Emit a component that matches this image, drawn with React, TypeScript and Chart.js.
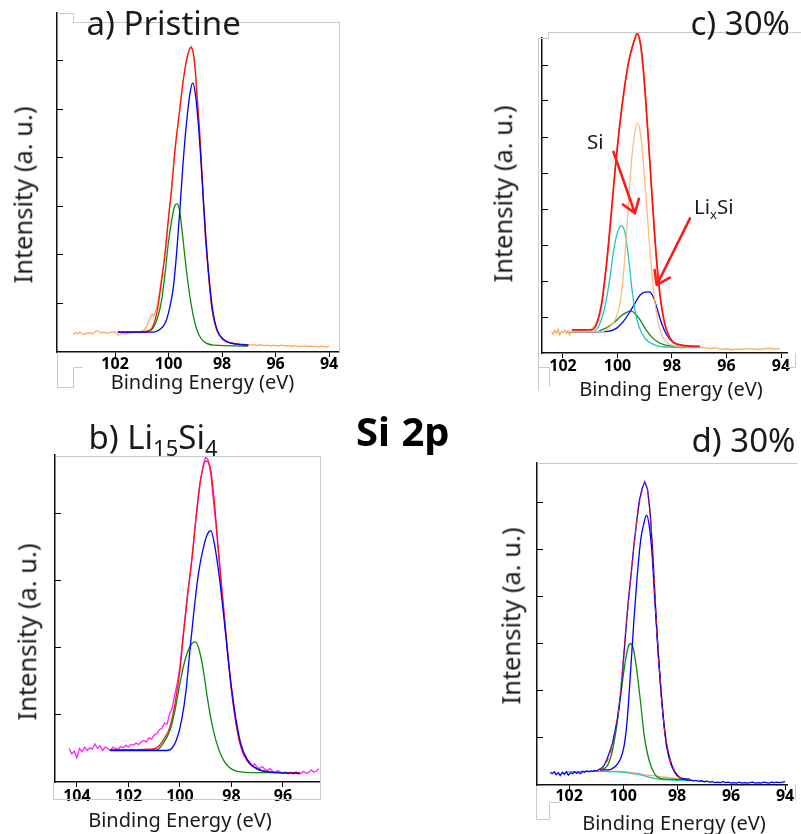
import React, { useEffect, useRef } from 'react';
import { Chart, registerables } from 'chart.js';

Chart.register(...registerables);

type Pt = [number, number];

const FONT = '"Noto Sans", "DejaVu Sans", sans-serif';
const W = 801;
const H = 834;

// ---------------- a) Pristine ----------------
const aXTicks = [102, 100, 98, 96, 94];
const aYTicks = [1, 2, 3, 4, 5, 6];
const aRaw: Pt[] = [
  [103.57, 0.36], [103.48, 0.4], [103.4, 0.37], [103.32, 0.41], [103.24, 0.38], [103.16, 0.36], [103.08, 0.39],
  [103.0, 0.38], [102.92, 0.4], [102.84, 0.37], [102.76, 0.41], [102.68, 0.44], [102.6, 0.42], [102.52, 0.39],
  [102.44, 0.41], [102.36, 0.4], [102.28, 0.38], [102.2, 0.41], [102.12, 0.4], [102.04, 0.42], [101.96, 0.38],
  [101.88, 0.35], [101.8, 0.36], [101.72, 0.39], [101.64, 0.37], [101.56, 0.38], [101.48, 0.4], [101.4, 0.39],
  [101.32, 0.41], [101.24, 0.4], [101.16, 0.42], [101.08, 0.41], [101.0, 0.43], [100.9, 0.46], [100.8, 0.55],
  [100.7, 0.68], [100.62, 0.78], [100.55, 0.74], [100.48, 0.86], [100.4, 1.02], [100.3, 1.38], [100.2, 1.75],
  [100.1, 2.2], [100.0, 2.78], [99.9, 3.3], [99.8, 3.92], [99.7, 4.45], [99.6, 4.92], [99.5, 5.38], [99.4, 5.78],
  [99.3, 6.1], [99.2, 6.26], [99.15, 6.3], [99.1, 6.2], [99.0, 5.82], [98.9, 5.0], [98.8, 4.15], [98.7, 3.2],
  [98.6, 2.3], [98.5, 1.55], [98.4, 1.0], [98.3, 0.66], [98.2, 0.46], [98.1, 0.34], [98.0, 0.27], [97.9, 0.23],
  [97.8, 0.2], [97.7, 0.19], [97.6, 0.18], [97.5, 0.17], [97.4, 0.18], [97.3, 0.16], [97.2, 0.16], [97.1, 0.15],
  [97.0, 0.15], [96.9, 0.14], [96.8, 0.15], [96.7, 0.13], [96.6, 0.15], [96.5, 0.14], [96.4, 0.13], [96.3, 0.14],
  [96.2, 0.12], [96.1, 0.14], [96.0, 0.13], [95.9, 0.12], [95.8, 0.14], [95.7, 0.13], [95.6, 0.12], [95.5, 0.13],
  [95.4, 0.11], [95.3, 0.13], [95.2, 0.12], [95.1, 0.11], [95.0, 0.12], [94.9, 0.13], [94.8, 0.11], [94.7, 0.12],
  [94.6, 0.11], [94.5, 0.12], [94.4, 0.1], [94.3, 0.12], [94.2, 0.11], [94.1, 0.1], [94.0, 0.12],
];
const aEnvelope: Pt[] = [
  [101.9, 0.41], [100.94, 0.42], [100.69, 0.45], [100.44, 0.8], [100.26, 1.48], [100.13, 2.03], [100.01, 2.72],
  [99.88, 3.4], [99.76, 4.16], [99.6, 4.91], [99.45, 5.6], [99.3, 6.08], [99.17, 6.27], [99.05, 6.08],
  [98.95, 5.39], [98.82, 4.36], [98.72, 3.33], [98.64, 2.51], [98.51, 1.62], [98.39, 0.93], [98.2, 0.45],
  [97.95, 0.25], [97.58, 0.18], [97.02, 0.14],
];
const aSiMain: Pt[] = [
  [101.9, 0.41], [101.0, 0.41], [100.57, 0.41], [100.32, 0.47], [100.13, 0.59], [99.95, 0.93], [99.82, 1.34],
  [99.7, 2.03], [99.57, 2.99], [99.45, 3.95], [99.32, 4.77], [99.2, 5.32], [99.1, 5.54], [99.0, 5.32],
  [98.89, 4.71], [98.8, 4.02], [98.7, 3.13], [98.6, 2.3], [98.48, 1.48], [98.35, 0.86], [98.18, 0.45],
  [97.93, 0.25], [97.45, 0.16], [97.02, 0.14],
];
const aSiSecond: Pt[] = [
  [101.9, 0.41], [101.07, 0.41], [100.69, 0.44], [100.44, 0.66], [100.26, 1.07], [100.13, 1.62], [100.01, 2.24],
  [99.88, 2.72], [99.78, 2.99], [99.67, 3.05], [99.57, 2.85], [99.47, 2.37], [99.35, 1.76], [99.22, 1.21],
  [99.07, 0.73], [98.89, 0.38], [98.67, 0.21], [98.33, 0.14], [97.02, 0.12],
];

// ---------------- b) Li15Si4 ----------------
const bXTicks = [104, 102, 100, 98, 96];
const bYTicks = [1, 2, 3, 4];
const bRaw: Pt[] = [
  [104.3, 0.5], [104.2, 0.42], [104.1, 0.46], [104.0, 0.36], [103.9, 0.5], [103.8, 0.45], [103.7, 0.52],
  [103.6, 0.47], [103.5, 0.51], [103.4, 0.49], [103.3, 0.57], [103.2, 0.5], [103.1, 0.54], [103.0, 0.47],
  [102.9, 0.52], [102.8, 0.5], [102.7, 0.47], [102.6, 0.52], [102.5, 0.5], [102.4, 0.49], [102.3, 0.53],
  [102.2, 0.51], [102.1, 0.55], [102.0, 0.52], [101.9, 0.56], [101.8, 0.55], [101.7, 0.58], [101.6, 0.56],
  [101.5, 0.6], [101.4, 0.62], [101.3, 0.6], [101.2, 0.66], [101.1, 0.64], [101.0, 0.7], [100.9, 0.72],
  [100.8, 0.78], [100.7, 0.8], [100.6, 0.88], [100.5, 0.86], [100.4, 1.02], [100.3, 1.1], [100.2, 1.3],
  [100.1, 1.48], [100.0, 1.72], [99.9, 2.1], [99.8, 2.45], [99.7, 2.8], [99.6, 3.1], [99.5, 3.45], [99.4, 3.85],
  [99.3, 4.2], [99.2, 4.5], [99.1, 4.72], [99.0, 4.85], [98.9, 4.8], [98.8, 4.6], [98.7, 4.2], [98.6, 3.85],
  [98.5, 3.45], [98.4, 3.0], [98.3, 2.6], [98.2, 2.15], [98.1, 1.75], [98.0, 1.38], [97.9, 1.08], [97.8, 0.82],
  [97.7, 0.62], [97.6, 0.48], [97.5, 0.38], [97.4, 0.34], [97.3, 0.3], [97.2, 0.24], [97.1, 0.27], [97.0, 0.22],
  [96.9, 0.2], [96.8, 0.23], [96.7, 0.19], [96.6, 0.17], [96.5, 0.2], [96.4, 0.16], [96.3, 0.14], [96.2, 0.17],
  [96.1, 0.14], [96.0, 0.13], [95.9, 0.15], [95.8, 0.12], [95.7, 0.14], [95.6, 0.12], [95.5, 0.15], [95.4, 0.12],
  [95.3, 0.13], [95.2, 0.16], [95.1, 0.13], [95.0, 0.14], [94.9, 0.18], [94.8, 0.15], [94.7, 0.16], [94.6, 0.2],
];
const bEnvelope: Pt[] = [
  [102.71, 0.48], [101.16, 0.49], [100.9, 0.51], [100.64, 0.63], [100.38, 0.83], [100.19, 1.17], [100.0, 1.67],
  [99.87, 2.17], [99.71, 2.77], [99.54, 3.31], [99.37, 3.96], [99.22, 4.46], [98.99, 4.79], [98.83, 4.71],
  [98.67, 4.21], [98.51, 3.46], [98.34, 2.72], [98.18, 2.07], [98.03, 1.47], [97.86, 0.97], [97.67, 0.58],
  [97.41, 0.33], [97.02, 0.2], [96.5, 0.15], [95.34, 0.14],
];
const bLiSi: Pt[] = [
  [102.71, 0.47], [100.51, 0.47], [100.32, 0.5], [100.13, 0.63], [99.93, 0.93], [99.76, 1.37], [99.61, 1.97],
  [99.45, 2.57], [99.28, 3.11], [99.11, 3.46], [98.94, 3.69], [98.8, 3.75], [98.64, 3.51], [98.47, 3.06],
  [98.31, 2.52], [98.16, 1.97], [98.0, 1.42], [97.82, 0.93], [97.64, 0.58], [97.38, 0.33], [97.02, 0.2],
  [96.24, 0.14], [95.34, 0.13],
];
const bSecond: Pt[] = [
  [102.71, 0.48], [100.9, 0.48], [100.64, 0.58], [100.38, 0.78], [100.19, 1.07], [100.0, 1.47], [99.8, 1.82],
  [99.61, 2.02], [99.41, 2.09], [99.25, 1.97], [99.09, 1.67], [98.94, 1.27], [98.76, 0.88], [98.57, 0.58],
  [98.31, 0.33], [97.93, 0.18], [97.28, 0.14], [95.9, 0.14],
];

// ---------------- c) 30% ----------------
const cXTicks = [102, 100, 98, 96, 94];
const cYTicks = [1, 2, 3, 4, 5, 6, 7, 8];
const cRaw: Pt[] = [
  [102.42, 0.58], [102.36, 0.52], [102.3, 0.63], [102.24, 0.55], [102.18, 0.66], [102.12, 0.5], [102.06, 0.6],
  [102.0, 0.57], [101.94, 0.64], [101.88, 0.55], [101.82, 0.62], [101.76, 0.5], [101.7, 0.6], [101.64, 0.63],
  [101.5, 0.62], [101.3, 0.63], [101.1, 0.64], [100.95, 0.66], [100.8, 0.8], [100.7, 1.0], [100.6, 1.32],
  [100.5, 1.85], [100.4, 2.5], [100.3, 3.2], [100.2, 4.05], [100.1, 4.95], [100.0, 5.75], [99.9, 6.4],
  [99.8, 7.05], [99.7, 7.6], [99.6, 8.05], [99.5, 8.4], [99.4, 8.65], [99.3, 8.82], [99.25, 8.84], [99.15, 8.55],
  [99.05, 7.85], [98.95, 6.85], [98.85, 5.75], [98.75, 4.6], [98.65, 3.45], [98.55, 2.45], [98.45, 1.65],
  [98.35, 1.12], [98.25, 0.75], [98.15, 0.52], [98.05, 0.38], [97.9, 0.28], [97.75, 0.22], [97.6, 0.2],
  [97.4, 0.18], [97.2, 0.17], [97.0, 0.16], [96.8, 0.14], [96.6, 0.12], [96.4, 0.14], [96.2, 0.1], [96.0, 0.12],
  [95.8, 0.09], [95.6, 0.11], [95.4, 0.1], [95.2, 0.12], [95.0, 0.11], [94.8, 0.1], [94.6, 0.12], [94.4, 0.13],
  [94.2, 0.11], [94.05, 0.13],
];
const cEnvelope: Pt[] = [
  [101.67, 0.64], [100.95, 0.64], [100.76, 0.82], [100.58, 1.38], [100.4, 2.49], [100.24, 3.79], [100.09, 5.08],
  [99.94, 6.19], [99.79, 7.12], [99.6, 8.05], [99.42, 8.6], [99.27, 8.88], [99.14, 8.51], [99.02, 7.58],
  [98.89, 6.19], [98.77, 4.81], [98.65, 3.42], [98.5, 2.03], [98.32, 1.01], [98.07, 0.41], [97.64, 0.22],
  [96.97, 0.18],
];
const cSiMain: Pt[] = [
  [101.9, 0.59], [100.58, 0.59], [100.34, 0.69], [100.09, 0.92], [99.91, 1.38], [99.79, 2.12], [99.66, 3.42],
  [99.54, 4.81], [99.42, 5.82], [99.26, 6.4], [99.14, 6.01], [99.02, 4.99], [98.89, 3.69], [98.77, 2.49],
  [98.65, 1.56], [98.5, 0.82], [98.32, 0.41], [98.01, 0.22], [97.5, 0.18], [96.97, 0.17],
];
const cSi: Pt[] = [
  [101.9, 0.59], [100.95, 0.59], [100.7, 0.73], [100.46, 1.29], [100.27, 2.12], [100.12, 2.95], [99.97, 3.42],
  [99.85, 3.54], [99.72, 3.32], [99.6, 2.68], [99.48, 1.84], [99.36, 1.19], [99.21, 0.73], [98.99, 0.41],
  [98.62, 0.22], [98.01, 0.16], [96.97, 0.15],
];
const cLixSi: Pt[] = [
  [101.9, 0.59], [100.58, 0.59], [100.34, 0.6], [100.03, 0.69], [99.79, 0.87], [99.54, 1.15], [99.36, 1.38],
  [99.17, 1.61], [98.99, 1.69], [98.84, 1.7], [98.69, 1.56], [98.53, 1.19], [98.38, 0.82], [98.19, 0.5],
  [97.95, 0.29], [97.58, 0.19], [96.97, 0.18],
];
const cOxide: Pt[] = [
  [101.9, 0.59], [100.76, 0.59], [100.58, 0.64], [100.34, 0.73], [100.09, 0.87], [99.85, 1.04], [99.66, 1.13],
  [99.51, 1.17], [99.36, 1.1], [99.17, 0.92], [98.99, 0.69], [98.74, 0.44], [98.44, 0.27], [98.01, 0.19],
  [96.97, 0.17],
];

// ---------------- d) 30% ----------------
const dXTicks = [102, 100, 98, 96, 94];
const dYTicks = [1, 2, 3, 4, 5, 6];
const dRaw: Pt[] = [
  [102.7, 0.27], [102.63, 0.24], [102.55, 0.28], [102.48, 0.22], [102.4, 0.26], [102.33, 0.2], [102.25, 0.27],
  [102.18, 0.23], [102.1, 0.28], [102.03, 0.21], [101.95, 0.26], [101.87, 0.24], [101.8, 0.28], [101.72, 0.25],
  [101.65, 0.27], [101.57, 0.24], [101.5, 0.29], [101.42, 0.27], [101.35, 0.3], [101.27, 0.28], [101.2, 0.3],
  [101.12, 0.29], [101.05, 0.31], [100.97, 0.3], [100.9, 0.33], [100.8, 0.36], [100.7, 0.42], [100.6, 0.55],
  [100.5, 0.7], [100.4, 0.88], [100.3, 1.15], [100.2, 1.45], [100.1, 1.9], [100.0, 2.55], [99.9, 3.3],
  [99.8, 3.95], [99.7, 4.5], [99.6, 5.1], [99.5, 5.6], [99.4, 6.05], [99.3, 6.3], [99.2, 6.45], [99.1, 6.3],
  [99.0, 5.8], [98.9, 4.9], [98.8, 3.8], [98.7, 2.8], [98.6, 2.0], [98.5, 1.35], [98.4, 0.85], [98.3, 0.58],
  [98.2, 0.4], [98.1, 0.28], [98.0, 0.2], [97.9, 0.16], [97.8, 0.13], [97.7, 0.12], [97.6, 0.1], [97.5, 0.11],
  [97.4, 0.09], [97.3, 0.1], [97.2, 0.08], [97.1, 0.09], [97.0, 0.07], [96.9, 0.08], [96.8, 0.06], [96.7, 0.07],
  [96.6, 0.05], [96.5, 0.06], [96.4, 0.05], [96.3, 0.07], [96.2, 0.05], [96.1, 0.06], [96.0, 0.04], [95.9, 0.05],
  [95.8, 0.04], [95.7, 0.06], [95.6, 0.04], [95.5, 0.05], [95.4, 0.04], [95.3, 0.05], [95.2, 0.06], [95.1, 0.04],
  [95.0, 0.05], [94.9, 0.04], [94.8, 0.06], [94.7, 0.05], [94.6, 0.04], [94.5, 0.06], [94.4, 0.05], [94.3, 0.06],
  [94.2, 0.05], [94.1, 0.06], [94.0, 0.07],
];
const dEnvelope: Pt[] = [
  [100.86, 0.32], [100.67, 0.43], [100.49, 0.67], [100.3, 1.1], [100.14, 1.74], [99.99, 2.66], [99.87, 3.51],
  [99.75, 4.22], [99.6, 5.07], [99.44, 5.85], [99.31, 6.24], [99.2, 6.43], [99.1, 6.28], [99.0, 5.78],
  [98.9, 4.93], [98.81, 3.87], [98.7, 2.8], [98.57, 1.81], [98.45, 1.1], [98.29, 0.6], [98.08, 0.28],
  [97.83, 0.14], [97.52, 0.12],
];
const dSiMain: Pt[] = [
  [100.86, 0.32], [100.61, 0.32], [100.3, 0.39], [100.12, 0.53], [99.97, 0.81], [99.85, 1.38], [99.72, 2.45],
  [99.6, 3.51], [99.48, 4.43], [99.35, 5.21], [99.23, 5.57], [99.13, 5.74], [99.03, 5.5], [98.93, 4.93],
  [98.82, 3.87], [98.7, 2.8], [98.57, 1.81], [98.45, 1.1], [98.29, 0.6], [98.08, 0.28], [97.83, 0.14],
  [97.52, 0.12],
];
const dSecond: Pt[] = [
  [100.86, 0.32], [100.61, 0.39], [100.42, 0.67], [100.24, 1.24], [100.08, 1.95], [99.93, 2.59], [99.81, 2.94],
  [99.72, 3.01], [99.6, 2.84], [99.48, 2.38], [99.35, 1.74], [99.23, 1.1], [99.1, 0.67], [98.94, 0.36],
  [98.76, 0.18], [98.5, 0.13], [97.52, 0.12],
];
const dBackground1: Pt[] = [
  [102.1, 0.28], [101.4, 0.29], [100.8, 0.29], [100.2, 0.28], [99.85, 0.26], [99.49, 0.23], [99.25, 0.2],
  [99.0, 0.16], [98.75, 0.13], [98.4, 0.11], [98.0, 0.1], [97.4, 0.1],
];
const dBackground2: Pt[] = [
  [100.86, 0.3], [100.2, 0.29], [99.85, 0.28], [99.5, 0.25], [99.1, 0.21], [98.75, 0.19], [98.5, 0.17],
  [98.2, 0.15], [97.9, 0.13], [97.5, 0.12],
];

// ---------------- styling ----------------
const RED = '#ff1010';
const BLUE = '#0000ff';
const GREEN = '#0c8a0c';
const ORANGE = '#ffaa58';
const PEACH = '#ffbb80';
const MAGENTA = '#ff22ff';
const CYAN = '#22c4c4';

interface Series { data: Pt[]; color: string; smooth?: boolean; width?: number; dash?: number[] }
interface Arrow { from: Pt; to: Pt }
interface Panel {
  area: [number, number, number, number];
  xRange: [number, number];
  yMax: number;
  xTicks: number[];
  yTicks: number[];
  labelPad: number;
  series: Series[];
  frame: Pt[][];
  arrows?: Arrow[];
}

const panels: Panel[] = [
  {
    area: [57, 13, 339, 352], xRange: [93.63, 104.17], yMax: 6.98, xTicks: aXTicks, yTicks: aYTicks, labelPad: -1.8,
    series: [
      { data: aSiMain, color: BLUE, smooth: true },
      { data: aEnvelope, color: RED, smooth: true },
      { data: aSiSecond, color: GREEN, smooth: true },
      { data: aRaw, color: ORANGE },
    ],
    frame: [
      [[57, 13], [73, 13], [73, 22], [339, 22], [339, 352]],
      [[57, 352], [57, 387], [73, 387], [73, 367], [82, 367]],
    ],
  },
  {
    area: [55, 455, 320, 782], xRange: [94.56, 104.85], yMax: 4.88, xTicks: bXTicks, yTicks: bYTicks, labelPad: 0.3,
    series: [
      { data: bLiSi, color: BLUE, smooth: true },
      { data: bSecond, color: GREEN, smooth: true },
      { data: bEnvelope, color: RED, smooth: true },
      { data: bRaw, color: MAGENTA },
    ],
    frame: [
      [[55, 456], [320, 456], [320, 799], [53, 799], [53, 782]],
    ],
  },
  {
    area: [542, 38, 787, 353], xRange: [93.78, 102.77], yMax: 8.75, xTicks: cXTicks, yTicks: cYTicks, labelPad: -0.8,
    series: [
      { data: cEnvelope, color: RED, smooth: true, width: 1.7 },
      { data: cRaw, color: ORANGE },
      { data: cSiMain, color: PEACH, smooth: true },
      { data: cSi, color: CYAN, smooth: true },
      { data: cLixSi, color: BLUE, smooth: true },
      { data: cOxide, color: GREEN, smooth: true },
    ],
    frame: [
      [[538, 38], [548, 38], [548, 32], [801, 32]],
      [[538, 38], [538, 390]],
      [[538, 367], [549, 367], [549, 386]],
      [[795, 353], [795, 367], [785, 367]],
    ],
    arrows: [
      { from: [100.15, 5.59], to: [99.36, 3.88] },
      { from: [97.34, 3.74], to: [98.56, 1.89] },
    ],
  },
  {
    area: [537, 463, 787, 785], xRange: [93.93, 103.19], yMax: 6.85, xTicks: dXTicks, yTicks: dYTicks, labelPad: -2.8,
    series: [
      { data: dEnvelope, color: RED, smooth: true, dash: [5, 5] },
      { data: dRaw, color: BLUE },
      { data: dSiMain, color: BLUE, smooth: true },
      { data: dSecond, color: GREEN, smooth: true },
      { data: dBackground1, color: CYAN, smooth: true },
      { data: dBackground2, color: ORANGE, smooth: true },
    ],
    frame: [
      [[537, 463], [797, 463]],
      [[536, 786], [536, 819], [549, 819], [549, 802], [560, 802]],
      [[795, 783], [795, 800]],
    ],
  },
];

function PanelChart({ p }: { p: Panel }) {
  const ref = useRef<HTMLCanvasElement | null>(null);
  useEffect(() => {
    const [L, T, R, B] = p.area;
    const XH = 40;
    const decor = {
      id: 'decor',
      afterDraw(chart: any) {
        const ctx = chart.ctx as CanvasRenderingContext2D;
        ctx.save();
        ctx.strokeStyle = '#c9c9c9';
        ctx.lineWidth = 1;
        for (const pl of p.frame) {
          ctx.beginPath();
          pl.forEach(([x, y], i) => (i ? ctx.lineTo(x + 0.5, y + 0.5) : ctx.moveTo(x + 0.5, y + 0.5)));
          ctx.stroke();
        }
        const xs = chart.scales.x;
        const ys = chart.scales.y;
        ctx.strokeStyle = '#ff1a1a';
        ctx.lineWidth = 2.6;
        ctx.lineCap = 'round';
        ctx.lineJoin = 'round';
        for (const a of p.arrows || []) {
          const x1 = xs.getPixelForValue(a.from[0]);
          const y1 = ys.getPixelForValue(a.from[1]);
          const x2 = xs.getPixelForValue(a.to[0]);
          const y2 = ys.getPixelForValue(a.to[1]);
          const ang = Math.atan2(y2 - y1, x2 - x1);
          const len = 15;
          const sp = 0.6;
          ctx.beginPath();
          ctx.moveTo(x1, y1);
          ctx.lineTo(x2, y2);
          ctx.moveTo(x2 - len * Math.cos(ang - sp), y2 - len * Math.sin(ang - sp));
          ctx.lineTo(x2, y2);
          ctx.lineTo(x2 - len * Math.cos(ang + sp), y2 - len * Math.sin(ang + sp));
          ctx.stroke();
        }
        ctx.restore();
      },
    };
    const chart = new Chart(ref.current as HTMLCanvasElement, {
      type: 'line',
      data: {
        datasets: p.series.map((s, i) => ({
          data: s.data.map(([x, y]) => ({ x, y })),
          borderColor: s.color,
          backgroundColor: s.color,
          borderWidth: s.width ?? 1.3,
          borderDash: s.dash ?? [],
          pointRadius: 0,
          cubicInterpolationMode: s.smooth ? 'monotone' : 'default',
          tension: 0,
          fill: false,
          clip: false,
          order: i,
        })) as any,
      },
      options: {
        animation: false,
        responsive: false,
        events: [],
        layout: { autoPadding: false, padding: { left: L, top: T, right: W - R, bottom: H - B - XH } },
        plugins: { legend: { display: false }, tooltip: { enabled: false } },
        scales: {
          x: {
            type: 'linear',
            reverse: true,
            min: p.xRange[0],
            max: p.xRange[1],
            afterBuildTicks: (s: any) => { s.ticks = p.xTicks.map((v) => ({ value: v })); },
            afterFit: (s: any) => { s.height = XH; },
            ticks: {
              autoSkip: false,
              maxRotation: 0,
              padding: p.labelPad,
              color: '#000',
              font: { family: FONT, size: 16, weight: 'bold' },
              callback: (v: any) => String(v),
            },
            grid: { display: true, drawOnChartArea: false, drawTicks: true, tickLength: 5, color: '#000', lineWidth: 1 },
            border: { display: true, color: '#111', width: 1.5 },
          },
          y: {
            type: 'linear',
            min: 0,
            max: p.yMax,
            afterBuildTicks: (s: any) => { s.ticks = p.yTicks.map((v) => ({ value: v })); },
            afterFit: (s: any) => { s.width = 0; },
            ticks: { display: false },
            grid: { display: true, drawOnChartArea: false, drawTicks: true, tickLength: -6, color: '#000', lineWidth: 1 },
            border: { display: true, color: '#111', width: 1.5 },
          },
        },
      } as any,
      plugins: [decor as any],
    });
    return () => chart.destroy();
  }, [p]);
  return (
    <canvas
      ref={ref}
      width={W}
      height={H}
      style={{ position: 'absolute', left: 0, top: 0, width: W, height: H }}
    />
  );
}

const txt: React.CSSProperties = {
  position: 'absolute',
  whiteSpace: 'nowrap',
  lineHeight: 1,
  fontFamily: FONT,
  color: '#1a1a1a',
};

function XTitle({ cx, top }: { cx: number; top: number }) {
  return <div style={{ ...txt, left: cx, top, fontSize: 20, transform: 'translateX(-50%)' }}>Binding Energy (eV)</div>;
}
function YTitle({ cx, cy }: { cx: number; cy: number }) {
  return (
    <div style={{ ...txt, left: cx, top: cy, fontSize: 25.5, transform: 'translate(-50%, -50%) rotate(-90deg)' }}>
      Intensity (a. u.)
    </div>
  );
}

export default function App() {
  const sub = (s: string, size: number, drop: number) => (
    <span style={{ fontSize: size, position: 'relative', top: drop }}>{s}</span>
  );
  return (
    <div style={{ position: 'absolute', left: 0, top: 0, width: W, height: H, background: '#fff', overflow: 'hidden' }}>
      {panels.map((p, i) => (
        <PanelChart key={i} p={p} />
      ))}
      <div style={{ ...txt, left: 86.5, top: 5.7, fontSize: 33 }}>a) Pristine</div>
      <div style={{ ...txt, left: 88.5, top: 419.7, fontSize: 33 }}>
        b) Li{sub('15', 22, 7)}Si{sub('4', 22, 7)}
      </div>
      <div style={{ ...txt, left: 690.5, top: 5.7, fontSize: 33 }}>c) 30%</div>
      <div style={{ ...txt, left: 691.5, top: 422.7, fontSize: 33 }}>d) 30%</div>
      <div style={{ ...txt, left: 356, top: 411, fontSize: 40, fontWeight: 'bold', wordSpacing: 1, color: '#000' }}>
        Si 2p
      </div>
      <XTitle cx={202.5} top={372.2} />
      <XTitle cx={180} top={810.2} />
      <XTitle cx={671} top={378.9} />
      <XTitle cx={674} top={812.9} />
      <YTitle cx={23.4} cy={195} />
      <YTitle cx={26.8} cy={632} />
      <YTitle cx={503.4} cy={194} />
      <YTitle cx={510.8} cy={616} />
      <div style={{ ...txt, left: 587, top: 130.5, fontSize: 20.5 }}>Si</div>
      <div style={{ ...txt, left: 694, top: 195.5, fontSize: 20.5 }}>
        Li{sub('x', 13, 5)}Si
      </div>
    </div>
  );
}
